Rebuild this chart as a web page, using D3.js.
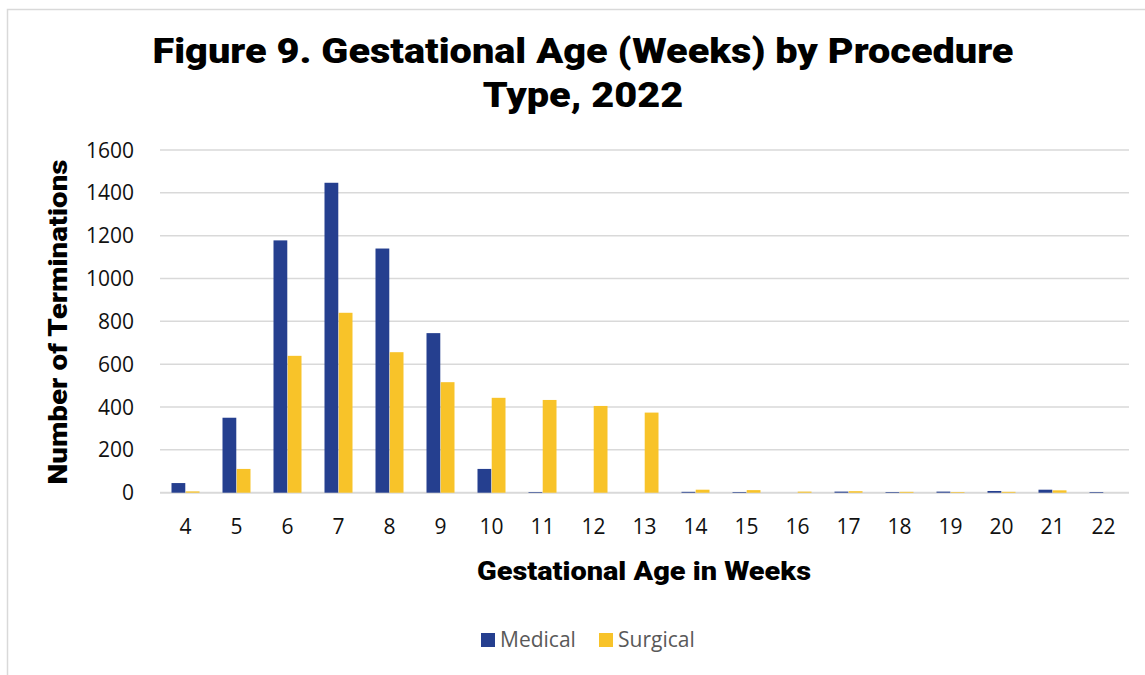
<!DOCTYPE html>
<html>
<head>
<meta charset="utf-8">
<title>Figure 9</title>
<script src="https://d3js.org/d3.v7.min.js"></script>
<style>
  body { margin: 0; background: #fff; }
  text { font-family: "Open Sans", "Noto Sans", sans-serif; }
  .title { font-family: "Roboto", "Noto Sans", sans-serif; font-weight: 900; }
  .axtitle { font-family: "Roboto", "Noto Sans", sans-serif; font-weight: 900; }
</style>
</head>
<body>
<div id="chart"></div>
<script>
// data
var weeks    = ["4","5","6","7","8","9","10","11","12","13","14","15","16","17","18","19","20","21","22"];
var medical  = [45, 350, 1178, 1447, 1140, 745, 111, 3, 0, 0, 4, 3, 0, 5, 3, 5, 8, 14, 3];
var surgical = [6, 111, 639, 840, 656, 516, 443, 433, 405, 374, 14, 12, 5, 7, 4, 3, 4, 11, 0];
var seriesNames  = ["Medical", "Surgical"];
var seriesColors = ["#253f8f", "#f8c329"];
var yTicks = [0, 200, 400, 600, 800, 1000, 1200, 1400, 1600];

var width = 1145, height = 675;
var margin = {left: 160, right: 16, top: 150, bottom: 182};

var svg = d3.select("#chart").append("svg")
    .attr("width", width)
    .attr("height", height);

// outer frame (only left and top edges are visible)
svg.append("path")
    .attr("d", "M7.5,675 L7.5,9.5 L1145,9.5")
    .attr("fill", "none")
    .attr("stroke", "#d9d9d9")
    .attr("stroke-width", 1.5);

var x = d3.scaleBand()
    .domain(weeks)
    .range([margin.left, width - margin.right]);

var y = d3.scaleLinear()
    .domain([0, 1600])
    .range([height - margin.bottom - 0.3, margin.top]);

// gridlines
svg.append("g")
    .selectAll("line")
    .data(yTicks)
    .enter().append("line")
    .attr("x1", margin.left)
    .attr("x2", width - margin.right)
    .attr("y1", function(d) { return y(d); })
    .attr("y2", function(d) { return y(d); })
    .attr("stroke", "#d9d9d9")
    .attr("stroke-width", function(d) { return d === 0 ? 2 : 1.5; });

// y labels
svg.append("g")
    .selectAll("text")
    .data(yTicks)
    .enter().append("text")
    .attr("x", 134)
    .attr("y", function(d) { return y(d); })
    .attr("dy", "0.36em")
    .attr("text-anchor", "end")
    .attr("font-size", 21)
    .attr("fill", "#111")
    .text(function(d) { return d; });

// x labels
svg.append("g")
    .selectAll("text")
    .data(weeks)
    .enter().append("text")
    .attr("x", function(d) { return x(d) + x.bandwidth() / 2; })
    .attr("y", 534)
    .attr("text-anchor", "middle")
    .attr("font-size", 21)
    .attr("fill", "#111")
    .text(function(d) { return d; });

// bars
var inner = d3.scaleBand()
    .domain(seriesNames)
    .range([0, 28])
    .paddingInner(0.03);
var offset = (x.bandwidth() - 28) / 2;

var rows = weeks.map(function(w, i) {
    return {week: w, values: [medical[i], surgical[i]]};
});

var groups = svg.append("g")
    .selectAll("g")
    .data(rows)
    .enter().append("g")
    .attr("transform", function(d) { return "translate(" + (x(d.week) + offset) + ",0)"; });

groups.selectAll("rect")
    .data(function(d) { return d.values.map(function(v, j) { return {name: seriesNames[j], value: v, color: seriesColors[j]}; }); })
    .enter().append("rect")
    .attr("x", function(d) { return inner(d.name); })
    .attr("width", inner.bandwidth())
    .attr("y", function(d) { return y(d.value); })
    .attr("height", function(d) { return y(0) - y(d.value); })
    .attr("fill", function(d) { return d.color; });

// stretch a heavy text to the width it has in the original
function stretchTo(sel, target) {
    var w = sel.node().getComputedTextLength();
    sel.attr("textLength", target).attr("lengthAdjust", "spacingAndGlyphs");
    return w;
}

// title
var t1 = svg.append("text")
    .attr("class", "title")
    .attr("text-anchor", "middle")
    .attr("x", 583).attr("y", 63)
    .attr("font-size", 35)
    .text("Figure 9. Gestational Age (Weeks) by Procedure");
var w1 = t1.node().getComputedTextLength();
stretchTo(t1, 861);
var t2 = svg.append("text")
    .attr("class", "title")
    .attr("text-anchor", "middle")
    .attr("x", 583).attr("y", 107)
    .attr("font-size", 35)
    .text("Type, 2022");
stretchTo(t2, t2.node().getComputedTextLength() * 861 / w1);

// axis titles
var yt = svg.append("text")
    .attr("class", "axtitle")
    .attr("text-anchor", "middle")
    .attr("font-size", 25)
    .attr("dy", "0.36em")
    .attr("transform", "translate(58,322) rotate(-90)")
    .text("Number of Terminations");
stretchTo(yt, 325);

var xt = svg.append("text")
    .attr("class", "axtitle")
    .attr("text-anchor", "middle")
    .attr("x", 644)
    .attr("y", 580)
    .attr("font-size", 25)
    .text("Gestational Age in Weeks");
stretchTo(xt, 334);

// legend
var legendX = [481, 599];
var legend = svg.append("g")
    .selectAll("g")
    .data(seriesNames)
    .enter().append("g")
    .attr("transform", function(d, i) { return "translate(" + legendX[i] + ",633)"; });
legend.append("rect")
    .attr("width", 14)
    .attr("height", 14)
    .attr("fill", function(d, i) { return seriesColors[i]; });
legend.append("text")
    .attr("x", 19)
    .attr("y", 14)
    .attr("font-size", 21)
    .attr("fill", "#595959")
    .text(function(d) { return d; });
</script>
</body>
</html>
